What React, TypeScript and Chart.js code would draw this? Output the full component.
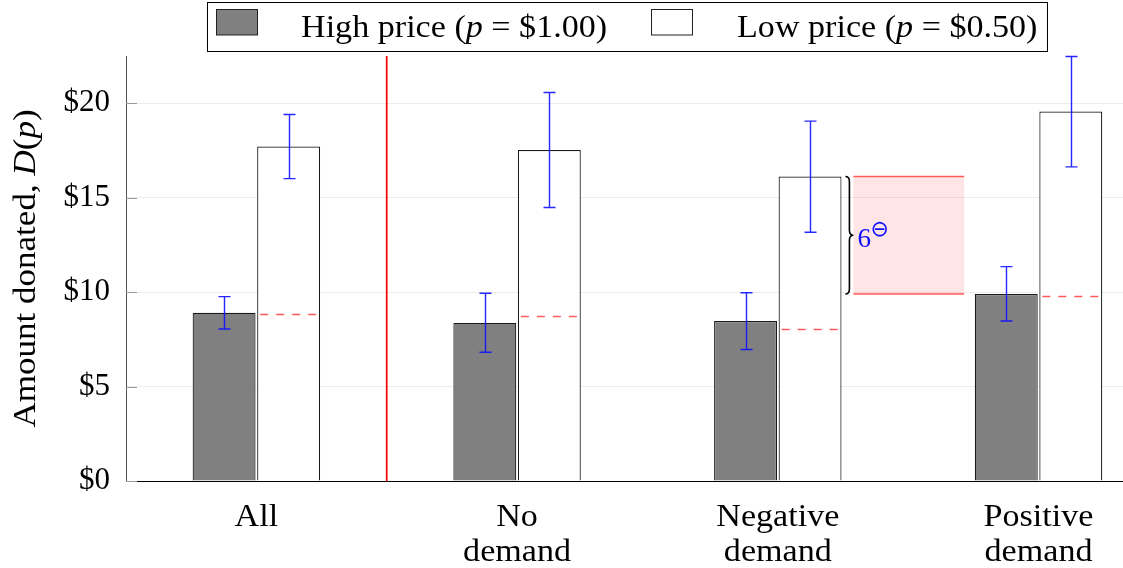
import React, { useEffect, useRef } from 'react';
import { Chart, registerables } from 'chart.js';

Chart.register(...registerables);

// ---- data ----
const categories: string[][] = [['All'], ['No', 'demand'], ['Negative', 'demand'], ['Positive', 'demand']];
const highPrice = [8.91, 8.37, 8.47, 9.9];
const highErrLow = [8.05, 6.82, 6.96, 8.47];
const highErrHigh = [9.76, 9.94, 9.97, 11.35];
const lowPrice = [17.71, 17.52, 16.12, 19.56];
const lowErrLow = [16.01, 14.48, 13.17, 16.63];
const lowErrHigh = [19.4, 20.57, 19.05, 22.47];
const halfLowRef = [8.85, 8.76, 8.05, 9.77];
const yTicks = [0, 5, 10, 15, 20];
const dividerX = 0.5;
const gapRange = [9.9, 16.12];
const gapX = [2.29, 2.715];
const gapLabel = '6';
const gapSup = '⊖';

type Seg = { t: string; italic?: boolean };
const legendItems: { fill: string; segs: Seg[] }[] = [
  { fill: '#808080', segs: [{ t: 'High price (' }, { t: 'p', italic: true }, { t: ' = $1.00)' }] },
  { fill: '#ffffff', segs: [{ t: 'Low price (' }, { t: 'p', italic: true }, { t: ' = $0.50)' }] },
];
const yTitle: Seg[] = [{ t: 'Amount donated, ' }, { t: 'D', italic: true }, { t: '(' }, { t: 'p', italic: true }, { t: ')' }];

const FAMILY = "'Liberation Serif', serif";
const FS = 31;

function fontOf(italic: boolean | undefined, size = FS) {
  return `${italic ? 'italic ' : ''}${size}px ${FAMILY}`;
}

function drawRich(ctx: CanvasRenderingContext2D, segs: Seg[], x: number, y: number, align: 'left' | 'center', sx: number) {
  ctx.save();
  ctx.textBaseline = 'alphabetic';
  ctx.textAlign = 'left';
  let total = 0;
  const widths = segs.map((s) => {
    ctx.font = fontOf(s.italic);
    const w = ctx.measureText(s.t).width;
    total += w;
    return w;
  });
  ctx.translate(x, y);
  ctx.scale(sx, 1);
  let cx = align === 'center' ? -total / 2 : 0;
  segs.forEach((s, i) => {
    ctx.font = fontOf(s.italic);
    ctx.fillText(s.t, cx, 0);
    cx += widths[i];
  });
  ctx.restore();
}

const overlay = {
  id: 'overlay',
  beforeDatasetsDraw(chart: any) {
    const { ctx, chartArea, scales } = chart;
    const x = scales.x, y = scales.y;
    ctx.save();
    // inner tick marks
    ctx.strokeStyle = '#999';
    ctx.lineWidth = 1;
    yTicks.forEach((v) => {
      const py = Math.round(y.getPixelForValue(v)) + 0.5;
      ctx.beginPath();
      ctx.moveTo(chartArea.left, py);
      ctx.lineTo(chartArea.left + 11, py);
      ctx.stroke();
    });
    // shaded gap rectangle
    const rx0 = x.getPixelForValue(gapX[0]);
    const rx1 = x.getPixelForValue(gapX[1]);
    const ryTop = y.getPixelForValue(gapRange[1]);
    const ryBot = y.getPixelForValue(gapRange[0]);
    ctx.fillStyle = 'rgba(255,0,0,0.1)';
    ctx.fillRect(rx0, ryTop, rx1 - rx0, ryBot - ryTop);
    ctx.strokeStyle = 'rgba(255,40,40,0.75)';
    ctx.lineWidth = 1.5;
    [ryTop, ryBot].forEach((py) => {
      ctx.beginPath();
      ctx.moveTo(rx0, py);
      ctx.lineTo(rx1, py);
      ctx.stroke();
    });
    ctx.restore();
  },
  afterDatasetsDraw(chart: any) {
    const { ctx, chartArea, scales } = chart;
    const x = scales.x, y = scales.y;
    ctx.save();
    // red divider
    const dx = x.getPixelForValue(dividerX);
    ctx.setLineDash([]);
    ctx.strokeStyle = 'rgb(255,0,0)';
    ctx.lineWidth = 1.7;
    ctx.beginPath();
    ctx.moveTo(dx, chartArea.top);
    ctx.lineTo(dx, chartArea.bottom);
    ctx.stroke();
    // dashed reference lines on low-price bars
    const lowMeta = chart.getDatasetMeta(1);
    ctx.strokeStyle = 'rgba(255,50,50,0.8)';
    ctx.lineWidth = 1.5;
    ctx.setLineDash([8, 8]);
    halfLowRef.forEach((v, i) => {
      const b = lowMeta.data[i].getProps(['x', 'width'], true);
      const py = Math.round(y.getPixelForValue(v)) + 0.5;
      ctx.beginPath();
      ctx.moveTo(b.x - b.width / 2 + 3, py);
      ctx.lineTo(b.x + b.width / 2 - 3, py);
      ctx.stroke();
    });
    ctx.setLineDash([]);
    // error bars
    const errs = [
      { lo: highErrLow, hi: highErrHigh },
      { lo: lowErrLow, hi: lowErrHigh },
    ];
    ctx.strokeStyle = 'rgba(15,15,255,0.9)';
    ctx.lineWidth = 1.4;
    errs.forEach((e, di) => {
      const meta = chart.getDatasetMeta(di);
      e.lo.forEach((lo, i) => {
        const bx = Math.round(meta.data[i].getProps(['x'], true).x) + 0.5;
        const p0 = y.getPixelForValue(lo);
        const p1 = y.getPixelForValue(e.hi[i]);
        ctx.beginPath();
        ctx.moveTo(bx, p0);
        ctx.lineTo(bx, p1);
        ctx.moveTo(bx - 6, p0);
        ctx.lineTo(bx + 6, p0);
        ctx.moveTo(bx - 6, p1);
        ctx.lineTo(bx + 6, p1);
        ctx.stroke();
      });
    });
    // brace
    const tip = x.getPixelForValue(gapX[0]);
    const xl = tip - 8;
    const xm = tip - 4;
    const top = y.getPixelForValue(gapRange[1]);
    const bot = y.getPixelForValue(gapRange[0]);
    const mid = (top + bot) / 2;
    ctx.strokeStyle = '#000';
    ctx.lineWidth = 1.6;
    ctx.beginPath();
    ctx.moveTo(xl, top);
    ctx.quadraticCurveTo(xm, top, xm, top + 5);
    ctx.lineTo(xm, mid - 5);
    ctx.quadraticCurveTo(xm, mid, tip, mid);
    ctx.quadraticCurveTo(xm, mid, xm, mid + 5);
    ctx.lineTo(xm, bot - 5);
    ctx.quadraticCurveTo(xm, bot, xl, bot);
    ctx.stroke();
    // gap label
    ctx.fillStyle = '#1010ff';
    ctx.textBaseline = 'alphabetic';
    ctx.textAlign = 'left';
    ctx.font = `27px ${FAMILY}`;
    ctx.fillText(gapLabel, tip + 4, mid + 12);
    ctx.font = `22px 'DejaVu Sans', sans-serif`;
    ctx.textBaseline = 'middle';
    ctx.fillText(gapSup, tip + 17, mid - 5);
    ctx.restore();
  },
  afterDraw(chart: any) {
    const { ctx, chartArea, scales } = chart;
    const x = scales.x;
    ctx.save();
    ctx.fillStyle = '#000';
    // x category labels
    categories.forEach((lines, i) => {
      const px = x.getPixelForValue(i);
      lines.forEach((ln, k) => {
        drawRich(ctx, [{ t: ln }], px, chartArea.bottom + 45 + k * 35, 'center', 1.1);
      });
    });
    // y title
    ctx.save();
    ctx.translate(35, (chartArea.top + chartArea.bottom) / 2);
    ctx.rotate(-Math.PI / 2);
    drawRich(ctx, yTitle, 0, 0, 'center', 1.13);
    ctx.restore();
    // legend box
    ctx.strokeStyle = '#000';
    ctx.lineWidth = 1;
    ctx.fillStyle = '#fff';
    ctx.fillRect(207.5, 2.5, 840, 49);
    ctx.strokeRect(207.5, 2.5, 840, 49);
    const swX = [216.5, 651.5];
    const txX = [301, 737];
    legendItems.forEach((it, i) => {
      ctx.fillStyle = it.fill;
      ctx.fillRect(swX[i], 9.5, 41, 25.5);
      ctx.strokeStyle = '#222';
      ctx.strokeRect(swX[i], 9.5, 41, 25.5);
      ctx.fillStyle = '#000';
      drawRich(ctx, it.segs, txX[i], 37, 'left', 1.1);
    });
    ctx.restore();
  },
};

export default function App() {
  const ref = useRef<HTMLCanvasElement | null>(null);
  useEffect(() => {
    document.body.style.margin = '0';
    const canvas = ref.current!;
    const chart = new Chart(canvas, {
      type: 'bar',
      data: {
        datasets: [
          {
            label: 'High price',
            data: highPrice.map((v, i) => ({ x: i, y: v })),
            backgroundColor: '#808080',
            borderColor: '#1a1a1a',
            borderWidth: 1.2,
            categoryPercentage: 0.495,
            barPercentage: 0.975,
          },
          {
            label: 'Low price',
            data: lowPrice.map((v, i) => ({ x: i, y: v })),
            backgroundColor: '#ffffff',
            borderColor: '#1a1a1a',
            borderWidth: 1.2,
            categoryPercentage: 0.495,
            barPercentage: 0.975,
          },
        ],
      } as any,
      options: {
        animation: false,
        responsive: false,
        devicePixelRatio: 1,
        layout: { padding: { top: 56, right: 0, left: 0, bottom: 0 } },
        plugins: { legend: { display: false }, tooltip: { enabled: false } },
        scales: {
          x: {
            type: 'linear',
            min: -0.5,
            max: 3.324,
            offset: false,
            grid: { display: false, drawTicks: false },
            border: { display: true, color: '#000', width: 1 },
            ticks: { display: false },
            afterBuildTicks: (s: any) => {
              s.ticks = categories.map((_, i) => ({ value: i }));
            },
            afterFit: (s: any) => {
              s.height = 87;
            },
          },
          y: {
            min: 0,
            max: 22.5,
            grid: { color: '#ececec', drawTicks: false, lineWidth: 1 },
            border: { display: true, color: '#555', width: 1 },
            ticks: {
              padding: 16,
              color: '#000',
              font: { family: FAMILY, size: FS },
              callback: (v: any) => '$' + v,
            },
            afterBuildTicks: (s: any) => {
              s.ticks = yTicks.map((v) => ({ value: v }));
            },
            afterFit: (s: any) => {
              s.width = 126;
            },
          },
        },
      } as any,
      plugins: [overlay],
    });
    return () => chart.destroy();
  }, []);
  return (
    <div style={{ position: 'absolute', left: 0, top: 0, width: 1123, height: 568 }}>
      <canvas ref={ref} width={1123} height={568} />
    </div>
  );
}
